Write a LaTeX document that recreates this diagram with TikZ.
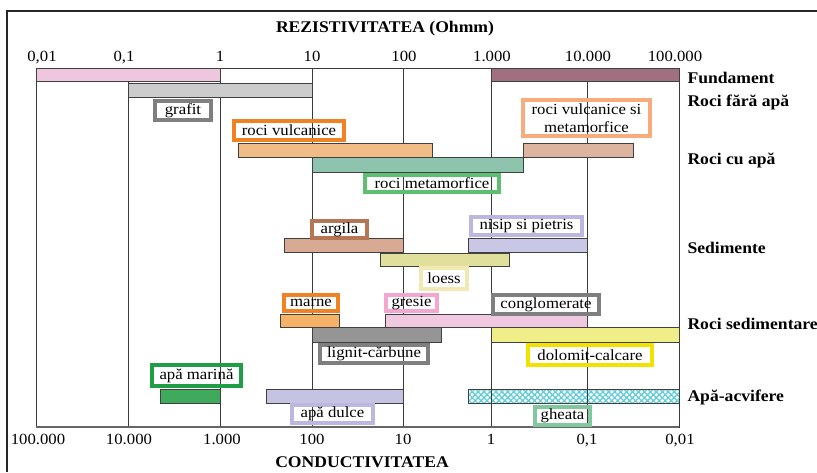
\documentclass[tikz,border=0pt]{standalone}
\usepackage{fontspec}
\setmainfont{Liberation Serif}[FakeStretch=1.08]
\usetikzlibrary{patterns.meta}
\definecolor{gridc}{HTML}{3A3A3A}
\definecolor{cfundA}{HTML}{EEC6DE}
\definecolor{cfundB}{HTML}{A07080}
\definecolor{cgrafit}{HTML}{CCCCCC}
\definecolor{cvulc}{HTML}{F2BC88}
\definecolor{cvulcmeta}{HTML}{DDB59E}
\definecolor{cmeta}{HTML}{8EC4AE}
\definecolor{cargila}{HTML}{D8AA94}
\definecolor{cnisip}{HTML}{C9C7E6}
\definecolor{cloess}{HTML}{E0DF9C}
\definecolor{cmarne}{HTML}{F6B266}
\definecolor{cgresie}{HTML}{F0C8E0}
\definecolor{clignit}{HTML}{959595}
\definecolor{cdolomit}{HTML}{F0EE88}
\definecolor{cmarina}{HTML}{3DAA5C}
\definecolor{cdulce}{HTML}{C4C4E2}
\definecolor{cgheata}{HTML}{62CCD8}
\definecolor{bgray}{HTML}{7F7F7F}
\definecolor{borange}{HTML}{F08224}
\definecolor{bpeach}{HTML}{F8AC7E}
\definecolor{bgreen}{HTML}{5CBF72}
\definecolor{bbrown}{HTML}{B57656}
\definecolor{blav}{HTML}{BDB6E0}
\definecolor{bpaley}{HTML}{F1E8B2}
\definecolor{bpink}{HTML}{F2A6D0}
\definecolor{byellow}{HTML}{F2E200}
\definecolor{bdgreen}{HTML}{1F9E45}
\definecolor{bltgreen}{HTML}{82C89E}
\newcommand\lbfnt{\fontsize{15.5}{18.5}\selectfont}
\newcommand\bdfnt{\fontsize{16.3}{19}\selectfont\bfseries}
\begin{document}
\begin{tikzpicture}[x=1pt,y=-1pt,
  bar/.style={draw=black!75, line width=0.6pt},
  lab/.style={draw, line width=3.8pt, font=\lbfnt, inner sep=0pt, align=center},
  tick/.style={font=\lbfnt, anchor=base},
  cat/.style={font=\bdfnt, anchor=base west}]
\useasboundingbox (0,0) rectangle (817,472);
% outer frame
\draw[line width=1.2pt, draw=black!85] (7,472) -- (7,11) -- (817,11);
% plot area and grid
\foreach \gx in {128,220,312,403,491,587}
  \draw[gridc, line width=0.8pt] (\gx,68) -- (\gx,427);
\draw[gridc, line width=0.8pt] (36,68) rectangle (679,427);
\draw[black!60, line width=1.4pt] (36,427) -- (679,427);
% bars
\draw[bar, fill=cfundA] (36,68) rectangle (220,81);
\draw[bar, fill=cfundB] (491,68) rectangle (679,81);
\draw[bar, fill=cgrafit] (128,83) rectangle (312,97);
\draw[bar, fill=cvulc] (238,143) rectangle (432,157);
\draw[bar, fill=cvulcmeta] (523,143) rectangle (633,157);
\draw[bar, fill=cmeta] (312,157) rectangle (523,172);
\draw[bar, fill=cargila] (284,238) rectangle (403,252);
\draw[bar, fill=cnisip] (468,238) rectangle (587,252);
\draw[bar, fill=cloess] (380,253) rectangle (509,266);
\draw[bar, fill=cmarne] (280,314) rectangle (339,327);
\draw[bar, fill=cgresie] (385,314) rectangle (587,327);
\draw[bar, fill=clignit] (312,327) rectangle (441,342);
\draw[bar, fill=cdolomit] (491,327) rectangle (679,342);
\draw[bar, fill=cmarina] (160,389) rectangle (220,403);
\draw[bar, fill=cdulce] (266,389) rectangle (403,403);
\fill[white] (468,389) rectangle (679,403);
\fill[pattern={Lines[angle=45,distance=4.2pt,line width=1.3pt]}, pattern color=cgheata] (468,389) rectangle (679,403);
\fill[pattern={Lines[angle=-45,distance=4.2pt,line width=1.3pt]}, pattern color=cgheata] (468,389) rectangle (679,403);
\draw[bar] (468,389) rectangle (679,403);
\draw[gridc, line width=0.8pt] (491,389) -- (491,403) (587,389) -- (587,403);
% labels
\node[lab, draw=bgray, minimum width=56pt, minimum height=19pt] (lgrafit) at (183,110.5) {grafit};
\node[lab, draw=borange, minimum width=110pt, minimum height=19pt] (lvulc) at (289,130.5) {roci vulcanice};
\node[lab, draw=bpeach, minimum width=127pt, minimum height=36pt] (lvulcmeta) at (586.5,118) {roci vulcanice si\\metamorfice};
\node[lab, draw=bgreen, minimum width=134pt, minimum height=17pt] (lmeta) at (432,183.5) {roci metamorfice};
\node[lab, draw=bbrown, minimum width=55pt, minimum height=17pt] (largila) at (339.5,229.5) {argila};
\node[lab, draw=blav, minimum width=111pt, minimum height=18pt] (lnisip) at (526.5,226) {nisip si pietris};
\node[lab, draw=bpaley, minimum width=46pt, minimum height=21pt] (lloess) at (444,278.5) {loess};
\node[lab, draw=borange, minimum width=54pt, minimum height=16pt] (lmarne) at (311,303) {marne};
\node[lab, draw=bpink, minimum width=51pt, minimum height=16pt] (lgresie) at (411.5,303) {gresie};
\node[lab, draw=bgray, minimum width=106pt, minimum height=19pt] (lcongl) at (546,304.5) {conglomerate};
\node[lab, draw=bgray, minimum width=108pt, minimum height=18pt] (llignit) at (374,354) {lignit-cărbune};
\node[lab, draw=byellow, minimum width=124pt, minimum height=20pt] (ldolomit) at (590,355) {dolomit-calcare};
\node[lab, draw=bdgreen, minimum width=89pt, minimum height=21pt] (lmarina) at (196.5,375.5) {apă marină};
\node[lab, draw=blav, minimum width=81pt, minimum height=18pt] (ldulce) at (332.5,414) {apă dulce};
\node[lab, draw=bltgreen, minimum width=55pt, minimum height=18pt] (lgheata) at (562.5,416) {gheata};
% category labels
\node[cat] (cfund) at (684,83) {Fundament};
\node[cat] (cfara) at (684,106) {Roci fără apă};
\node[cat] (ccu) at (684,164) {Roci cu apă};
\node[cat] (csed) at (684,253) {Sedimente};
\node[cat] (crsed) at (684,329) {Roci sedimentare};
\node[cat] (cacv) at (684,401) {Apă-acvifere};
% titles
\node[font=\bdfnt, anchor=base] (trez) at (385,32) {REZISTIVITATEA (Ohmm)};
\node[font=\bdfnt, anchor=base] (tcond) at (362,467) {CONDUCTIVITATEA};
% top ticks
\node[tick] (t1) at (42,61) {0,01};
\node[tick] (t2) at (124,61) {0,1};
\node[tick] (t3) at (220,61) {1};
\node[tick] (t4) at (312,61) {10};
\node[tick] (t5) at (404,61) {100};
\node[tick] (t6) at (492,61) {1.000};
\node[tick] (t7) at (588,61) {10.000};
\node[tick] (t8) at (675,61) {100.000};
% bottom ticks
\node[tick] (b1) at (38,444) {100.000};
\node[tick] (b2) at (129,444) {10.000};
\node[tick] (b3) at (222,444) {1.000};
\node[tick] (b4) at (312,444) {100};
\node[tick] (b5) at (403,444) {10};
\node[tick] (b6) at (491,444) {1};
\node[tick] (b7) at (587,444) {0,1};
\node[tick] (b8) at (680,444) {0,01};
\end{tikzpicture}
\end{document}
